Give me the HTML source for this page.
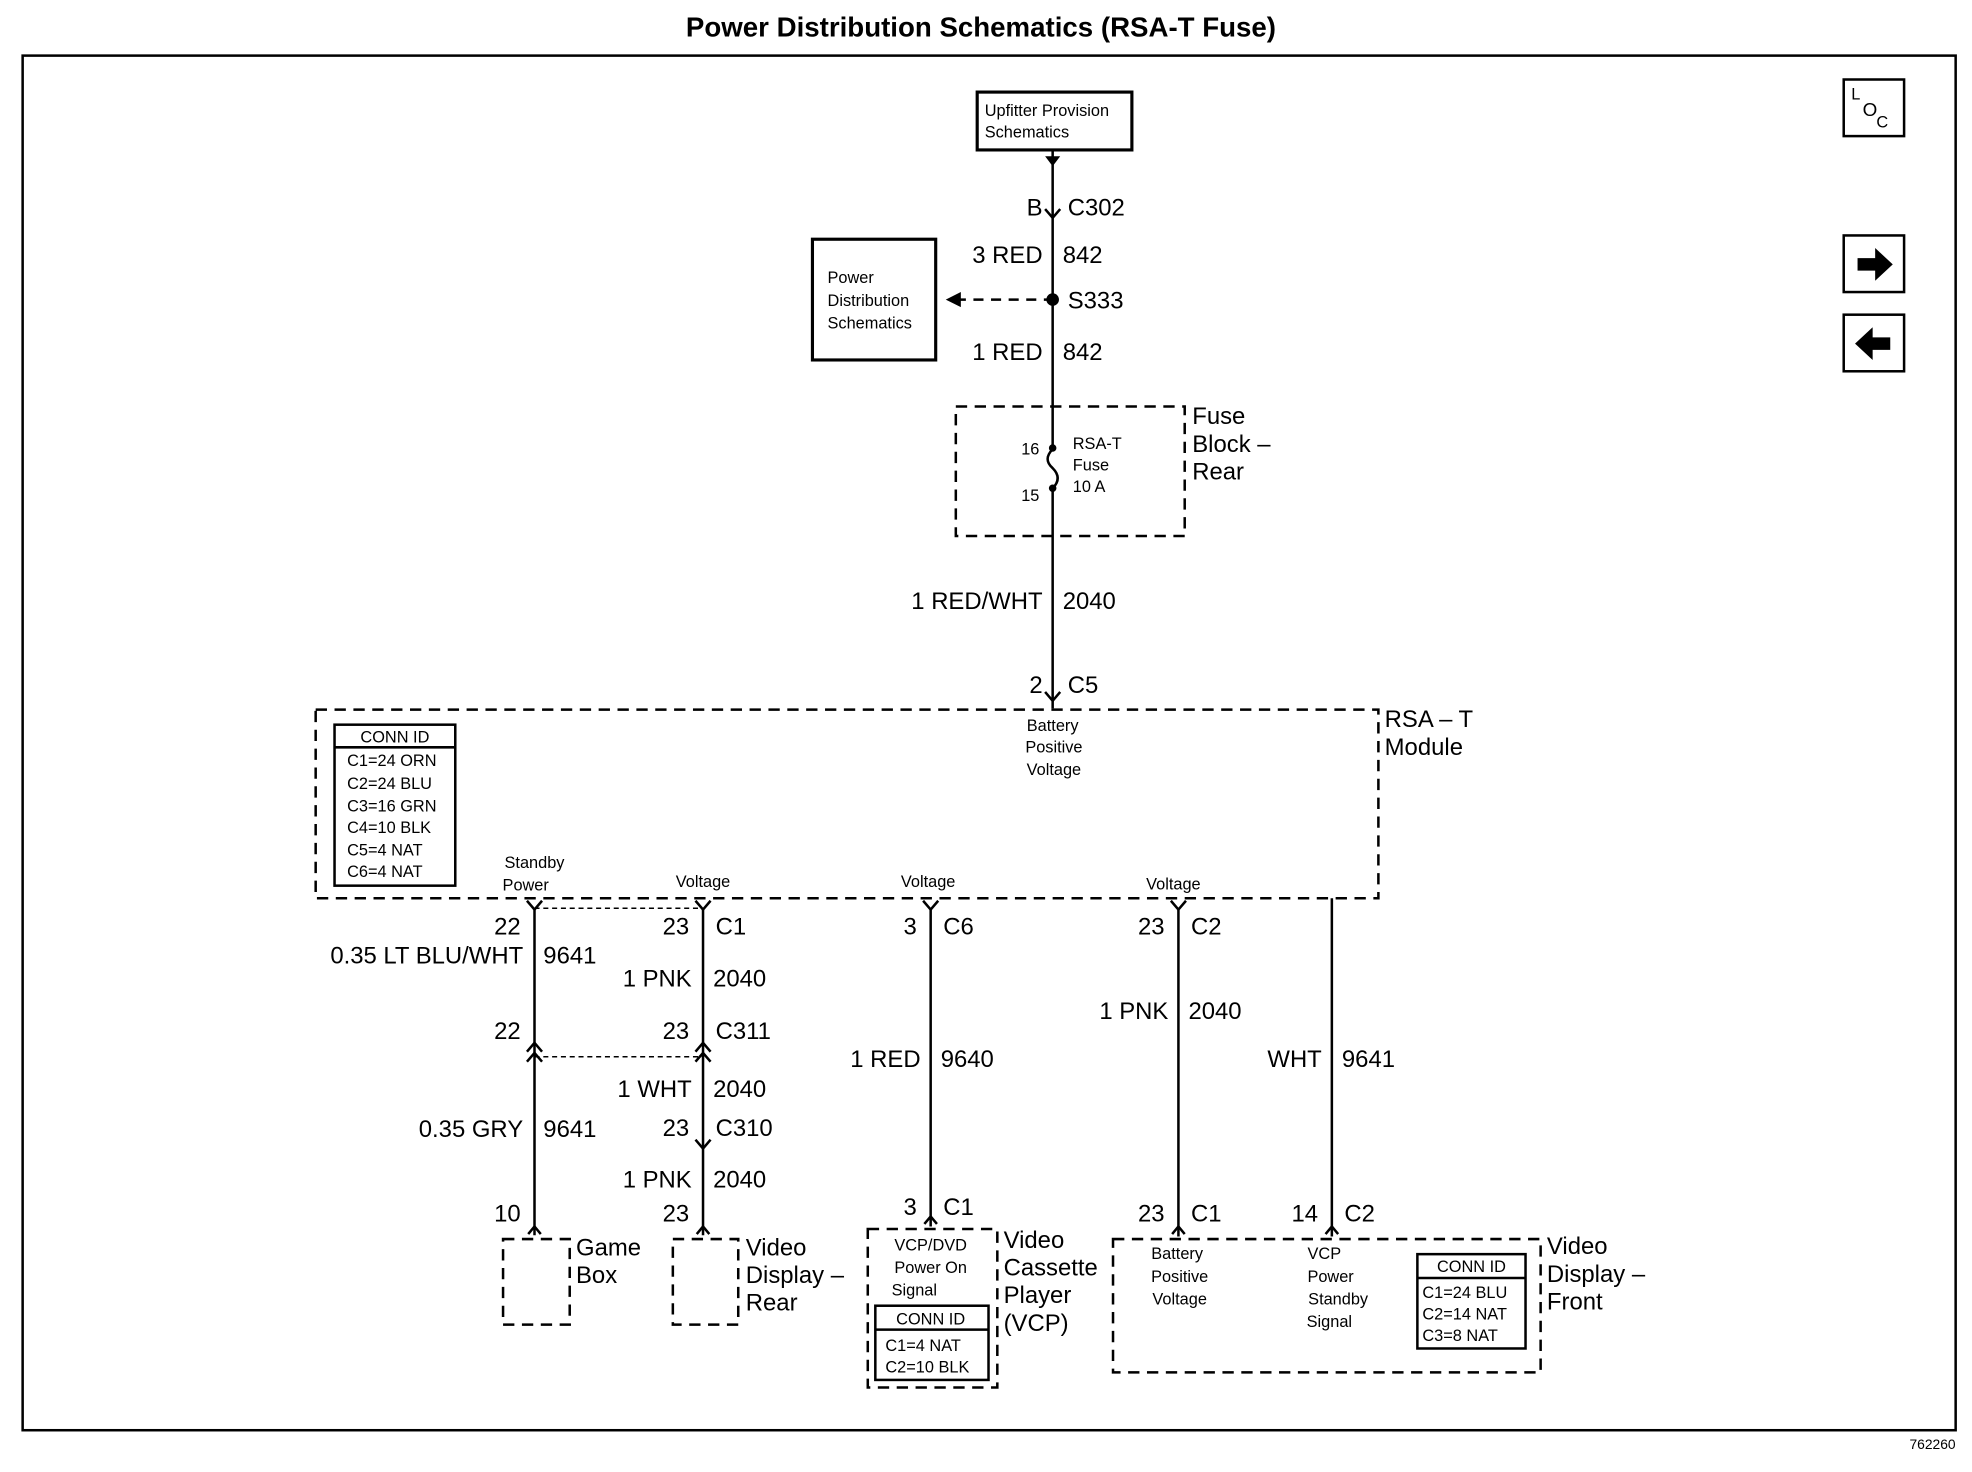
<!DOCTYPE html>
<html><head><meta charset="utf-8"><style>
html,body{margin:0;padding:0;background:#fff;}
svg{display:block}
text{font-family:"Liberation Sans",Arial,sans-serif;fill:#000}
.l{font-size:19px}
.s{font-size:13px}
.b{font-weight:bold}
</style></head><body>
<svg width="1972" height="1472" viewBox="0 0 1568 1170" xmlns="http://www.w3.org/2000/svg">
<g stroke="#000" fill="none" stroke-width="2">
<rect x="18" y="44" width="1537" height="1093"/>
<rect x="777" y="73" width="123" height="46" stroke-width="2.5"/>
<rect x="646" y="190" width="98" height="96" stroke-width="2.5"/>
<line x1="837" y1="119" x2="837" y2="563"/>
<line x1="838" y1="238" x2="762" y2="238" stroke-dasharray="8,6"/>
<rect x="760" y="323" width="182" height="103" stroke-dasharray="9,6"/>
<rect x="251" y="564" width="845" height="150" stroke-dasharray="9,6"/>
<rect x="266" y="576" width="96" height="128"/>
<line x1="266" y1="594" x2="362" y2="594"/>
<line x1="425" y1="722" x2="425" y2="982"/>
<line x1="559" y1="722" x2="559" y2="982"/>
<line x1="740" y1="722" x2="740" y2="975"/>
<line x1="937" y1="722" x2="937" y2="983"/>
<line x1="1059" y1="714" x2="1059" y2="983"/>
<line x1="425" y1="722" x2="559" y2="722" stroke-dasharray="4,3" stroke-width="1.2"/>
<line x1="425" y1="840" x2="559" y2="840" stroke-dasharray="4,3" stroke-width="1.2"/>
<rect x="400" y="985" width="53" height="68" stroke-dasharray="9,6"/>
<rect x="535" y="985" width="52" height="68" stroke-dasharray="9,6"/>
<rect x="690" y="977" width="103" height="126" stroke-dasharray="9,6"/>
<rect x="696" y="1038" width="90" height="59"/>
<line x1="696" y1="1057" x2="786" y2="1057"/>
<rect x="885" y="985" width="340" height="106" stroke-dasharray="9,6"/>
<rect x="1127" y="997" width="86" height="75"/>
<line x1="1127" y1="1016" x2="1213" y2="1016"/>
<rect x="1466" y="63" width="48" height="45"/>
<rect x="1466" y="187" width="48" height="45"/>
<rect x="1466" y="250" width="48" height="45"/>
<path d="M831 166 L837 173 L843 166"/>
<path d="M831 550 L837 557 L843 550"/>
<path d="M419 716 L425 723 L431 716"/>
<path d="M553 716 L559 723 L565 716"/>
<path d="M734 716 L740 723 L746 716"/>
<path d="M931 716 L937 723 L943 716"/>
<path d="M419 836 L425 829 L431 836"/>
<path d="M419 844 L425 837 L431 844"/>
<path d="M553 836 L559 829 L565 836"/>
<path d="M553 844 L559 837 L565 844"/>
<path d="M553 906 L559 913 L565 906"/>
<path d="M420 981 L425 975 L430 981"/>
<path d="M554 981 L559 975 L564 981"/>
<path d="M735 973 L740 967 L745 973"/>
<path d="M932 981 L937 975 L942 981"/>
<path d="M1054 981 L1059 975 L1064 981"/>
</g>
<rect x="835" y="357" width="4" height="30" fill="#fff"/>
<path d="M837 357 q-8 8 0 15 q8 8 0 16" fill="none" stroke="#000" stroke-width="2"/>
<path d="M831 124 L843 124 L837 132 Z"/>
<path d="M752 238 L764 232 L764 244 Z"/>
<circle cx="837" cy="238" r="5"/>
<circle cx="837" cy="356" r="3"/>
<circle cx="837" cy="388" r="3"/>
<path d="M1477 205 h14 v-8 l14 13 l-14 13 v-8 h-14z"/>
<path d="M1503 268 h-14 v-8 l-14 13 l14 13 v-8 h14z"/>
<text x="780" y="29" text-anchor="middle" class="b" font-size="22">Power Distribution Schematics (RSA-T Fuse)</text>
<text x="1555" y="1152" text-anchor="end" font-size="11">762260</text>
<text x="1472" y="79" font-size="13">L</text><text x="1481" y="92" font-size="15">O</text><text x="1492" y="101" font-size="13">C</text>
<g class="s">
<text x="783" y="92">Upfitter Provision</text><text x="783" y="109">Schematics</text>
<text x="658" y="225">Power</text><text x="658" y="243">Distribution</text><text x="658" y="261">Schematics</text>
<text x="853" y="357">RSA-T</text><text x="853" y="374">Fuse</text><text x="853" y="391">10 A</text>
<text x="812" y="361">16</text><text x="812" y="398">15</text>
<g text-anchor="middle"><text x="837" y="581">Battery</text><text x="838" y="598">Positive</text><text x="838" y="616">Voltage</text>
<text x="425" y="690">Standby</text><text x="418" y="708">Power</text>
<text x="559" y="705">Voltage</text><text x="738" y="705">Voltage</text><text x="933" y="707">Voltage</text>
<text x="314" y="590">CONN ID</text>
<text x="740" y="994">VCP/DVD</text><text x="740" y="1012">Power On</text><text x="727" y="1030">Signal</text>
<text x="740" y="1053">CONN ID</text>
<text x="936" y="1001">Battery</text><text x="938" y="1019">Positive</text><text x="938" y="1037">Voltage</text>
<text x="1053" y="1001">VCP</text><text x="1058" y="1019">Power</text><text x="1064" y="1037">Standby</text><text x="1057" y="1055">Signal</text>
<text x="1170" y="1011">CONN ID</text></g>
<text x="276" y="609">C1=24 ORN</text><text x="276" y="627">C2=24 BLU</text><text x="276" y="645">C3=16 GRN</text>
<text x="276" y="662">C4=10 BLK</text><text x="276" y="680">C5=4 NAT</text><text x="276" y="697">C6=4 NAT</text>
<text x="704" y="1074">C1=4 NAT</text><text x="704" y="1091">C2=10 BLK</text>
<text x="1131" y="1032">C1=24 BLU</text><text x="1131" y="1049">C2=14 NAT</text><text x="1131" y="1066">C3=8 NAT</text>
</g>
<g class="l">
<g text-anchor="end">
<text x="829" y="171">B</text><text x="829" y="209">3 RED</text><text x="829" y="286">1 RED</text>
<text x="829" y="484">1 RED/WHT</text><text x="829" y="551">2</text>
<text x="414" y="743">22</text><text x="416" y="766">0.35 LT BLU/WHT</text><text x="414" y="826">22</text>
<text x="416" y="904">0.35 GRY</text><text x="414" y="971">10</text>
<text x="548" y="743">23</text><text x="550" y="784">1 PNK</text><text x="548" y="826">23</text>
<text x="550" y="872">1 WHT</text><text x="548" y="903">23</text><text x="550" y="944">1 PNK</text><text x="548" y="971">23</text>
<text x="729" y="743">3</text><text x="732" y="848">1 RED</text><text x="729" y="966">3</text>
<text x="926" y="743">23</text><text x="929" y="810">1 PNK</text><text x="926" y="971">23</text>
<text x="1051" y="848">WHT</text><text x="1048" y="971">14</text>
</g>
<text x="849" y="171">C302</text><text x="845" y="209">842</text><text x="849" y="245">S333</text><text x="845" y="286">842</text>
<text x="948" y="337">Fuse</text><text x="948" y="359">Block –</text><text x="948" y="381">Rear</text>
<text x="845" y="484">2040</text><text x="849" y="551">C5</text>
<text x="1101" y="578">RSA – T</text><text x="1101" y="600">Module</text>
<text x="432" y="766">9641</text><text x="432" y="904">9641</text>
<text x="569" y="743">C1</text><text x="567" y="784">2040</text><text x="569" y="826">C311</text>
<text x="567" y="872">2040</text><text x="569" y="903">C310</text><text x="567" y="944">2040</text>
<text x="750" y="743">C6</text><text x="748" y="848">9640</text><text x="750" y="966">C1</text>
<text x="947" y="743">C2</text><text x="945" y="810">2040</text><text x="947" y="971">C1</text>
<text x="1067" y="848">9641</text><text x="1069" y="971">C2</text>
<text x="458" y="998">Game</text><text x="458" y="1020">Box</text>
<text x="593" y="998">Video</text><text x="593" y="1020">Display –</text><text x="593" y="1042">Rear</text>
<text x="798" y="992">Video</text><text x="798" y="1014">Cassette</text><text x="798" y="1036">Player</text><text x="798" y="1058">(VCP)</text>
<text x="1230" y="997">Video</text><text x="1230" y="1019">Display –</text><text x="1230" y="1041">Front</text>
</g>
</svg>
</body></html>
